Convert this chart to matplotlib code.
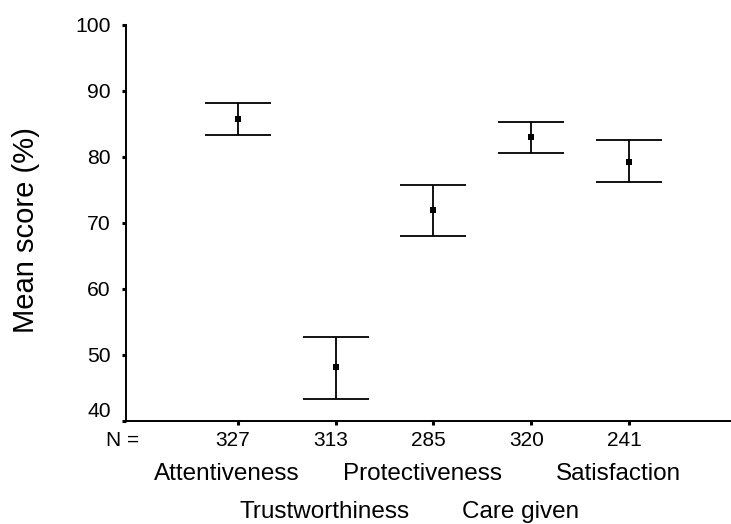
import matplotlib
matplotlib.use('Agg')
import matplotlib.pyplot as plt
import matplotlib.transforms as mtransforms

plt.rcParams['font.family'] = ['Liberation Sans', 'DejaVu Sans']

# data
categories = ['Attentiveness', 'Trustworthiness', 'Protectiveness', 'Care given', 'Satisfaction']
n_values = [327, 313, 285, 320, 241]
means = [85.8, 48.2, 71.9, 83.0, 79.2]
upper = [88.2, 52.8, 75.8, 85.3, 82.6]
lower = [83.4, 43.4, 68.1, 80.6, 76.2]
y_ticks = [40, 50, 60, 70, 80, 90, 100]

positions = list(range(1, len(categories) + 1))
err_lo = [m - l for m, l in zip(means, lower)]
err_hi = [u - m for m, u in zip(means, upper)]

fig = plt.figure(figsize=(7.31, 5.24), dpi=100)
ax = fig.add_axes([126 / 731, 103 / 524, 605 / 731, 396 / 524])

# whiskers + caps, then the little square means on top
ax.errorbar(positions, means, yerr=[err_lo, err_hi], fmt='none',
            ecolor='black', elinewidth=1.3, capsize=24, capthick=1.3)
ax.plot(positions, means, 's', color='black', markersize=4, markeredgewidth=0,
        zorder=5)

ax.set_xlim(-0.142, 6.04)
ax.set_ylim(40, 100)

for side in ['top', 'right']:
    ax.spines[side].set_visible(False)
for side in ['left', 'bottom']:
    ax.spines[side].set_linewidth(1.4)

ax.set_yticks(y_ticks)
ax.set_yticklabels([str(v) for v in y_ticks], fontsize=15.2)
ax.tick_params(axis='y', direction='out', length=3, width=2.2, pad=8)
ax.get_yticklabels()[0].set_verticalalignment('bottom')

ax.set_xticks(positions)
ax.set_xticklabels([''] * len(positions))
ax.tick_params(axis='x', direction='out', length=3, width=2.2)

# y label placed by hand, SPSS puts it well out to the left
fig.text(26 / 731, 1 - 230 / 524, 'Mean score (%)', rotation=90,
         ha='center', va='center', fontsize=21)

trans = mtransforms.blended_transform_factory(ax.transData, ax.transAxes)
for i, (p, n) in enumerate(zip(positions, n_values)):
    ax.text(p - 0.05, -0.048, str(n), transform=trans, ha='center', va='center',
            fontsize=15)
    row_y = -0.134 if i % 2 == 0 else -0.229
    ax.text(p - 0.11, row_y, categories[i], transform=trans, ha='center',
            va='center', fontsize=17.5)

fig.text(123 / 731, 1 - 440 / 524, 'N =', ha='center', va='center', fontsize=15)

fig.savefig('out.png', dpi=100)
